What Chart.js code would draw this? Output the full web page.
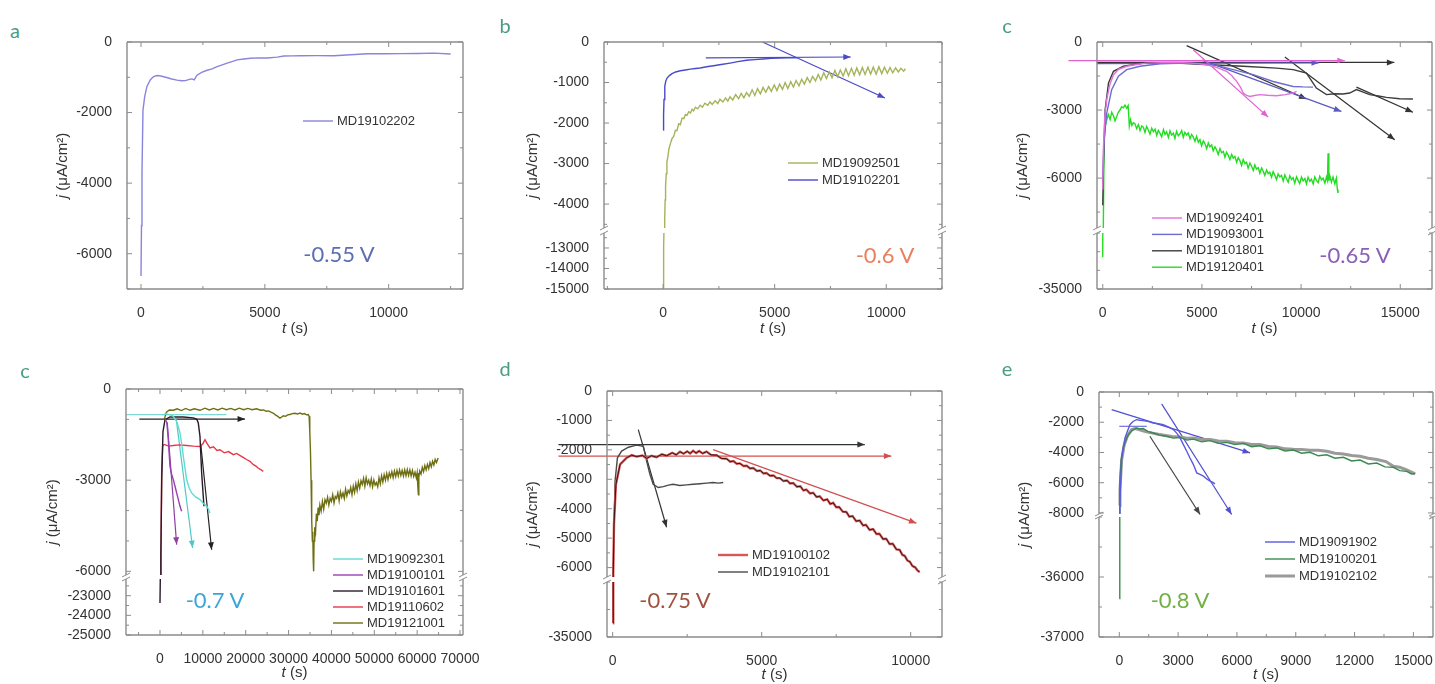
<!DOCTYPE html>
<html>
<head>
<meta charset="utf-8">
<script src="https://cdn.jsdelivr.net/npm/chart.js@4.4.1/dist/chart.umd.min.js"></script>
<style>
  body { margin: 0; background: #fff; width: 1435px; height: 684px; overflow: hidden; position: relative; }
  canvas { position: absolute; }
  .tag { position: absolute; font-family: Lato, "Open Sans", sans-serif; font-size: 20px; color: #4a9d82; transform: translate(-50%, -50%); line-height: 1; }
  .volt { position: absolute; font-family: Lato, "Open Sans", sans-serif; font-size: 22px; transform: translate(-50%, -50%); white-space: nowrap; line-height: 1; z-index: 2; }
</style>
</head>
<body>
<canvas id="pa" width="440" height="310" style="left:40px;top:30px"></canvas>
<canvas id="pb" width="460" height="310" style="left:500px;top:30px"></canvas>
<canvas id="pc" width="445" height="310" style="left:990px;top:30px"></canvas>
<canvas id="pc2" width="480" height="309" style="left:0px;top:375px"></canvas>
<canvas id="pd" width="470" height="309" style="left:490px;top:375px"></canvas>
<canvas id="pe" width="450" height="309" style="left:985px;top:375px"></canvas>

<div class="tag" style="left:15px;top:30px">a</div>
<div class="tag" style="left:505px;top:25px">b</div>
<div class="tag" style="left:1007px;top:25px">c</div>
<div class="tag" style="left:25px;top:370px">c</div>
<div class="tag" style="left:505px;top:368px">d</div>
<div class="tag" style="left:1007px;top:368px">e</div>

<div class="volt" style="left:339px;top:254px;color:#5b6fb5">-0.55 V</div>
<div class="volt" style="left:885px;top:255px;color:#e8805f">-0.6 V</div>
<div class="volt" style="left:1355px;top:255px;color:#8b5fb5">-0.65 V</div>
<div class="volt" style="left:215px;top:600px;color:#3aa6d8">-0.7 V</div>
<div class="volt" style="left:675px;top:600px;color:#a0523f">-0.75 V</div>
<div class="volt" style="left:1180px;top:600px;color:#72b043">-0.8 V</div>

<script>
// ---------- data: [t (s), j (uA/cm2)] ----------
// a  -0.55 V
const aXTicks = [0, 5000, 10000];
const aYTicks = [0, -2000, -4000, -6000];
const a19102202 = [[0,-6630],[20,-5200],[40,-3730],[80,-1930],[150,-1550],[240,-1260],[380,-1070],[510,-980],[650,-950],[800,-965],
  [1000,-1000],[1200,-1040],[1450,-1080],[1650,-1100],[1800,-1095],[1950,-1060],[2060,-1045],[2150,-1075],[2260,-940],[2450,-860],
  [2670,-800],[2870,-760],[3070,-700],[3280,-650],[3480,-600],[3700,-550],[3880,-505],[4150,-480],[4420,-460],[4750,-450],
  [5090,-455],[5500,-430],[5770,-395],[6100,-392],[6440,-390],[7100,-385],[7790,-390],[8460,-360],[9140,-335],[9800,-332],
  [10480,-330],[11150,-325],[11830,-315],[12500,-340]];

// b  -0.6 V
const bXTicks = [0, 5000, 10000];
const bYTicksUp = [0, -1000, -2000, -3000, -4000];
const bYTicksLow = [-13000, -14000, -15000];
const b19092501 = [[0,-15000],[15,-14000],[30,-13000],[50,-11500],[70,-4400],[90,-3900],[110,-3560],[140,-3250],[170,-2950],[210,-2850],
  [260,-2640],[320,-2520],[400,-2380],[475,-2330],[550,-2180],[620,-2190],[700,-2020],[770,-2040],[850,-1880],[930,-1890],
  [1000,-1790],[1070,-1810],[1150,-1720],[1230,-1750],[1300,-1660],[1365,-1700],[1450,-1610],[1550,-1650],[1660,-1560],[1760,-1610],
  [1870,-1510],[2000,-1560],[2100,-1480],[2200,-1540],[2330,-1450],[2450,-1520],[2550,-1410],[2680,-1480],[2800,-1380],[2900,-1460],
  [3000,-1350],[3120,-1430],[3250,-1300],[3380,-1400],[3500,-1270],[3620,-1380],[3740,-1250],[3860,-1340],[3990,-1180],[4110,-1320],
  [4230,-1150],[4360,-1280],[4480,-1120],[4600,-1240],[4730,-1100],[4850,-1220],[4980,-1060],[5100,-1200],[5220,-1040],[5350,-1170],
  [5470,-1000],[5590,-1150],[5720,-980],[5840,-1110],[5960,-950],[6090,-1080],[6210,-920],[6330,-1040],[6460,-880],[6580,-1000],
  [6700,-850],[6830,-960],[6950,-800],[7070,-940],[7200,-760],[7320,-900],[7450,-740],[7570,-880],[7700,-700],[7820,-860],
  [7940,-690],[8070,-840],[8190,-660],[8310,-830],[8440,-650],[8560,-820],[8680,-640],[8810,-810],[8930,-630],[9050,-800],
  [9180,-620],[9300,-790],[9420,-620],[9550,-790],[9670,-610],[9800,-780],[9920,-620],[10050,-770],[10170,-630],[10290,-760],
  [10420,-640],[10540,-740],[10660,-650],[10780,-720],[10860,-660]];
const b19102201 = [[0,-2170],[20,-1800],[40,-1420],[75,-1095],[120,-960],[180,-890],[280,-830],[400,-780],[560,-740],[770,-710],
  [1000,-690],[1220,-670],[1450,-655],[1660,-640],[1950,-610],[2260,-585],[2600,-555],[3000,-520],[3350,-485],[3740,-450],
  [4100,-435],[4480,-420],[4850,-405],[5220,-395],[5600,-390],[6000,-390]];
const bBlueArrows = [[1915,-390,8410,-370],[4450,0,9940,-1380]];

// c  -0.65 V
const cXTicks = [0, 5000, 10000, 15000];
const cYTicksUp = [0, -3000, -6000];
const cYTicksLow = [-35000];
const c19092401 = [[0,-6500],[30,-4750],[100,-3300],[200,-2540],[350,-1900],[540,-1440],[800,-1200],[1210,-1070],[1700,-990],[2210,-930],
  [3000,-910],[3720,-900],[4300,-920],[4900,-960],[5300,-1020],[5570,-1070],[5900,-1170],[6240,-1290],[6500,-1480],[6750,-1735],
  [6950,-2000],[7080,-2250],[7250,-2350],[7420,-2400],[7650,-2360],[7920,-2320],[8300,-2350],[8760,-2370],[9200,-2320],[9600,-2250],[9770,-2180]];
const c19093001 = [[0,-6000],[67,-4310],[200,-3130],[450,-2100],[790,-1510],[1210,-1220],[1880,-1070],[2890,-960],[4230,-930],[5570,-1000],
  [6580,-1220],[7580,-1440],[8590,-1740],[9600,-1960],[10100,-1980],[10600,-1990]];
const c19101801 = [[0,-7200],[34,-5490],[120,-2990],[290,-1810],[540,-1290],[1040,-1070],[2050,-930],[3720,-930],[5400,-1000],[7080,-1070],
  [8760,-1150],[9600,-1220],[10270,-1370],[10770,-2030],[11280,-2320],[11700,-2280],[12110,-2290],[12450,-2250],[12790,-2100],[13100,-2200],
  [13460,-2320],[13900,-2380],[14300,-2440],[14970,-2500],[15640,-2510]];
const c19120401 = [[0,-33300],[20,-9000],[67,-4460],[130,-3700],[200,-3430],[280,-3200],[370,-3420],[450,-3100],[540,-3250],[620,-3480],
  [700,-3300],[780,-3100],[870,-3000],[950,-2850],[1040,-2900],[1120,-2780],[1210,-2920],[1280,-2800],[1340,-3700],[1400,-3420],
  [1470,-3680],[1540,-3560],[1620,-3600],[1710,-3820],[1800,-3640],[1880,-3900],[1970,-3700],[2050,-3760],[2130,-3990],[2210,-3720],
  [2300,-3880],[2380,-4060],[2470,-3800],[2550,-3950],[2640,-3840],[2720,-4120],[2800,-3900],[2890,-4030],[2970,-4180],[3060,-3860],
  [3140,-4080],[3220,-3960],[3310,-4210],[3390,-3920],[3470,-4100],[3560,-4020],[3640,-4250],[3720,-3940],[3810,-4130],[3890,-4060],
  [3980,-3900],[4060,-4200],[4140,-3980],[4230,-4100],[4310,-4010],[4400,-4260],[4480,-4080],[4560,-4180],[4650,-4380],[4730,-4160],
  [4820,-4420],[4900,-4300],[4980,-4580],[5070,-4360],[5150,-4480],[5240,-4700],[5320,-4450],[5400,-4620],[5490,-4540],[5570,-4800],
  [5660,-4620],[5740,-4760],[5820,-4960],[5910,-4700],[5990,-4880],[6080,-4820],[6160,-5080],[6240,-4860],[6330,-5000],[6410,-5180],
  [6500,-4960],[6580,-5120],[6660,-5040],[6750,-5300],[6830,-5100],[6910,-5220],[7000,-5440],[7080,-5180],[7170,-5360],[7250,-5300],
  [7330,-5560],[7420,-5340],[7500,-5480],[7590,-5660],[7670,-5420],[7750,-5600],[7840,-5540],[7920,-5780],[8010,-5560],[8090,-5700],
  [8170,-5880],[8260,-5640],[8340,-5800],[8420,-5740],[8510,-5960],[8590,-5720],[8680,-5880],[8760,-6060],[8840,-5820],[8930,-5950],
  [9010,-5880],[9100,-6130],[9180,-5860],[9260,-6020],[9350,-6180],[9430,-5900],[9520,-6060],[9600,-5980],[9680,-6220],[9770,-5940],
  [9850,-6100],[9930,-6240],[10020,-5960],[10100,-6120],[10190,-6020],[10270,-6250],[10350,-5960],[10440,-6140],[10520,-6050],[10610,-6260],
  [10690,-5950],[10770,-6100],[10860,-6200],[10940,-5920],[11030,-6080],[11110,-6000],[11200,-6220],[11280,-5950],[11330,-6100],[11360,-4900],
  [11400,-6120],[11450,-5900],[11530,-6180],[11610,-5950],[11700,-6250],[11780,-6000],[11830,-6500],[11860,-6660]];
const cPinkArrows = [[-1730,-820,12200,-820],[4560,-340,8340,-3310]];
const cBlueArrows = [[-300,-950,10900,-920],[5000,-800,12030,-3060]];
const cDarkArrows = [[-300,-900,14700,-900],[4230,-160,10270,-2510],[9180,-660,14720,-4310],[12790,-1990,15640,-3100]];

// c (second)  -0.7 V
const c2XTicks = [0, 10000, 20000, 30000, 40000, 50000, 60000, 70000];
const c2YTicksUp = [0, -3000, -6000];
const c2YTicksLow = [-23000, -24000, -25000];
const c19092301 = [[500,-850],[1500,-820],[2500,-850],[3110,-900],[4000,-1100],[4670,-1450],[5050,-1800],[5440,-2210],[5830,-2600],[6220,-2980],
  [6800,-3250],[7390,-3420],[8300,-3550],[9330,-3640],[10100,-3760],[10890,-3860],[11300,-3950],[11660,-4080]];
const c19100101 = [[1200,-1000],[1600,-1100],[1940,-1670],[2330,-2540],[2700,-2800],[3110,-2980],[3500,-3200],[3890,-3420],[4300,-3650],[4670,-3860],[5050,-4020]];
const c19101601 = [[0,-23370],[80,-22000],[200,-5500],[400,-3000],[700,-1400],[1170,-1010],[2330,-920],[5440,-920],[7780,-950],[8600,-1000],
  [8940,-1120],[9330,-1560],[9720,-2760],[10260,-3860]];
const c19110602 = [[100,-6100],[230,-5500],[390,-2760],[620,-1890],[900,-1830],[1170,-1830],[2000,-1880],[3110,-1860],[4500,-1840],[6220,-1860],
  [7800,-1880],[9330,-1890],[10000,-1800],[10500,-1670],[11000,-1800],[11660,-1940],[12500,-1900],[13300,-2020],[14000,-2000],[15000,-2100],
  [16000,-2060],[17100,-2160],[17900,-2120],[18700,-2190],[19500,-2260],[20200,-2320],[21000,-2380],[21800,-2490],[22400,-2540],[22900,-2600],
  [23500,-2650],[24100,-2710]];
const c19121001 = [[1000,-1000],[1500,-760],[2200,-690],[3110,-700],[4000,-650],[5000,-710],[6000,-640],[7000,-700],[8000,-650],[9330,-700],
  [10500,-630],[11500,-690],[12500,-640],[13500,-690],[14500,-630],[15500,-680],[16500,-640],[17500,-690],[18500,-630],[19500,-680],
  [20500,-640],[21500,-680],[22500,-650],[23500,-700],[24100,-690],[24800,-730],[25300,-720],[26000,-770],[26400,-790],[27000,-860],
  [27500,-900],[28000,-960],[28400,-920],[28800,-880],[29300,-900],[29800,-850],[30300,-840],[30900,-810],[31500,-800],[32100,-820],
  [32700,-790],[33200,-830],[33700,-810],[34200,-850],[34600,-840],[34800,-900],[34950,-1400],[35100,-2000],[35250,-3000],[35400,-4300],
  [35550,-5000],[35650,-4700],[35750,-5600],[35850,-6000],[35950,-5000],[36100,-4550],[36300,-4700],[36500,-4100],[36700,-4350],[36900,-3900],
  [37100,-4150],[37300,-3820],[37600,-4020],[37900,-3700],[38200,-3950],[38500,-3640],[38800,-3760],[39100,-3560],[39400,-3820],[39700,-3600],
  [40000,-3700],[40300,-3480],[40600,-3750],[40900,-3540],[41200,-3600],[41500,-3420],[41800,-3680],[42100,-3380],[42400,-3560],[42700,-3420],
  [43000,-3600],[43300,-3300],[43600,-3520],[43900,-3340],[44200,-3420],[44500,-3240],[44800,-3480],[45100,-3200],[45400,-3400],[45700,-3120],
  [46000,-3340],[46300,-3060],[46600,-3260],[46900,-3020],[47200,-3140],[47500,-2940],[47800,-3200],[48100,-2920],[48400,-3120],[48700,-3000],
  [49000,-3180],[49300,-2960],[49600,-3220],[49900,-3000],[50200,-3160],[50500,-3080],[50800,-3220],[51100,-2920],[51400,-3120],[51700,-2860],
  [52000,-3060],[52300,-2820],[52600,-3000],[52900,-2780],[53200,-2980],[53500,-2760],[53800,-2900],[54100,-2720],[54400,-2920],[54700,-2700],
  [55000,-2880],[55300,-2680],[55600,-2860],[55900,-2660],[56200,-2840],[56500,-2680],[56800,-2860],[57100,-2660],[57400,-2850],[57700,-2650],
  [58000,-2840],[58300,-2660],[58600,-2860],[58900,-2680],[59200,-2880],[59500,-2740],[59800,-2920],[60000,-2760],[60200,-3300],[60300,-3480],
  [60400,-2900],[60600,-2700],[60900,-2800],[61200,-2580],[61500,-2720],[61800,-2520],[62100,-2660],[62400,-2480],[62700,-2620],[63000,-2420],
  [63300,-2560],[63600,-2380],[63900,-2500],[64200,-2320],[64500,-2420],[64900,-2270]];
const c2CyanLines = [[-7800,-845,15500,-845]];
const c2CyanArrows = [[3800,-1000,7620,-5230]];
const c2PurpleArrows = [[1700,-1100,3890,-5120]];
const c2DarkArrows = [[-4820,-990,19830,-990],[9500,-1800,12050,-5290]];

// d  -0.75 V
const dXTicks = [0, 5000, 10000];
const dYTicksUp = [0, -1000, -2000, -3000, -4000, -5000, -6000];
const dYTicksLow = [-35000];
const d19100102 = [[15,-34500],[20,-6200],[45,-4520],[110,-3170],[250,-2490],[470,-2270],[640,-2180],[800,-2230],[1000,-2190],[1140,-2290],
  [1300,-2200],[1470,-2250],[1650,-2150],[1810,-2200],[2000,-2100],[2130,-2170],[2260,-2060],[2380,-2130],[2500,-2050],[2600,-2120],
  [2700,-2030],[2800,-2110],[2900,-2040],[3020,-2120],[3150,-2060],[3300,-2170],[3490,-2180],[3650,-2290],[3820,-2300],[3940,-2400],
  [4050,-2380],[4160,-2470],[4270,-2460],[4390,-2550],[4500,-2540],[4610,-2630],[4720,-2620],[4840,-2720],[4950,-2700],[5060,-2800],
  [5160,-2790],[5280,-2880],[5400,-2870],[5500,-2960],[5610,-2960],[5730,-3060],[5850,-3040],[5950,-3140],[6060,-3130],[6180,-3250],
  [6300,-3240],[6400,-3380],[6500,-3350],[6620,-3480],[6730,-3460],[6840,-3600],[6950,-3580],[7070,-3720],[7200,-3680],[7300,-3840],
  [7400,-3800],[7500,-3950],[7600,-3940],[7720,-4100],[7840,-4110],[7940,-4270],[8050,-4250],[8170,-4420],[8290,-4400],[8400,-4570],
  [8500,-4550],[8620,-4720],[8740,-4690],[8850,-4860],[8950,-4850],[9070,-5030],[9180,-5020],[9290,-5200],[9400,-5190],[9520,-5380],
  [9630,-5400],[9720,-5570],[9800,-5600],[9890,-5760],[9970,-5800],[10060,-5950],[10150,-5990],[10230,-6100],[10300,-6150]];
const d19102101 = [[10,-34300],[18,-6090],[50,-4500],[80,-3060],[160,-2270],[300,-2040],[530,-1910],[800,-1840],[1030,-1880],[1140,-2380],
  [1250,-2830],[1360,-3170],[1530,-3280],[1700,-3250],[1870,-3200],[2030,-3170],[2250,-3210],[2480,-3190],[2700,-3170],[2930,-3150],
  [3150,-3130],[3370,-3110],[3550,-3130],[3710,-3110]];
const dRedArrows = [[-1820,-2210,9350,-2210],[3370,-1990,10190,-4490]];
const dDarkArrows = [[-1820,-1820,8460,-1820],[860,-1310,1810,-4630]];

// e  -0.8 V
const eXTicks = [0, 3000, 6000, 9000, 12000, 15000];
const eYTicksUp = [0, -2000, -4000, -6000, -8000];
const eYTicksLow = [-36000, -37000];
const e19091902 = [[0,-8000],[35,-7220],[120,-4360],[290,-3040],[540,-2160],[700,-1950],[880,-1830],[1050,-1870],[1220,-1890],[1500,-1960],
  [1730,-2050],[2000,-2100],[2240,-2160],[2500,-2300],[2760,-2490],[2950,-2750],[3100,-3040],[3270,-3480],[3440,-3920],[3600,-4350],
  [3780,-4800],[3950,-5350],[4120,-5450],[4290,-5570],[4460,-5750],[4630,-5900],[4750,-5960],[4880,-6080]];
const e19100201 = [[0,-36360],[15,-8500],[35,-5900],[100,-4500],[200,-3700],[330,-3200],[460,-2820],[650,-2550],[880,-2380],[1050,-2450],
  [1220,-2420],[1450,-2600],[1730,-2710],[2050,-2850],[2410,-2930],[2750,-3050],[3100,-3000],[3450,-3180],[3780,-3120],[4200,-3300],
  [4630,-3220],[5050,-3400],[5480,-3330],[5900,-3480],[6330,-3400],[6750,-3620],[7180,-3560],[7600,-3760],[8030,-3700],[8450,-3900],
  [8880,-3840],[9300,-4050],[9730,-3990],[10150,-4220],[10580,-4150],[11000,-4380],[11430,-4320],[11850,-4560],[12280,-4500],[12700,-4760],
  [13130,-4700],[13550,-4950],[13980,-4980],[14300,-5200],[14660,-5250],[14900,-5420],[15090,-5400]];
const e19102102 = [[0,-7500],[35,-6500],[120,-4500],[250,-3500],[420,-2900],[630,-2490],[800,-2420],[1000,-2480],[1200,-2560],[1390,-2640],
  [1700,-2720],[2000,-2800],[2350,-2880],[2700,-2950],[3100,-2980],[3450,-3060],[3780,-3040],[4200,-3140],[4630,-3150],[5050,-3240],
  [5480,-3260],[5900,-3360],[6330,-3370],[6750,-3470],[7180,-3480],[7600,-3600],[8030,-3640],[8450,-3760],[8880,-3790],[9300,-3800],
  [9730,-3850],[10150,-3860],[10580,-3920],[11000,-4050],[11430,-4100],[11850,-4200],[12280,-4250],[12700,-4380],[13130,-4470],[13600,-4600],
  [13980,-4910],[14300,-4980],[14660,-5150],[15090,-5420]];
const eBlueArrows = [[-390,-1170,6670,-4030],[2160,-790,5730,-8100]];
const eBlueLines = [[0,-2270,1400,-2270]];
const eDarkArrows = [[1560,-2930,4120,-8100]];

// ---------- drawing ----------
const FONT = '"Liberation Sans", Arial, sans-serif';
Chart.defaults.font.family = FONT;
Chart.defaults.animation = false;

function minorVals(min, max, step, major) {
  const out = [];
  for (let v = Math.ceil(min / step) * step; v <= max; v += step) {
    if (!major.includes(v)) out.push(v);
  }
  return out;
}

function arrows(list, color, head) {
  return list.map(a => ({a: a, c: color, head: head !== false}));
}

function makeDeco(p) {
  return {
    id: 'deco',
    beforeDatasetDraw(chart, args) {
      const ds = chart.data.datasets[args.index];
      const s = chart.scales[ds.yAxisID];
      const a = chart.chartArea;
      const ctx = chart.ctx;
      ctx.save();
      ctx.beginPath();
      if (ds.isArrow) ctx.rect(0, s.top - 1, chart.width, s.bottom - s.top + 2);
      else ctx.rect(a.left, s.top, a.right - a.left, s.bottom - s.top);
      ctx.clip();
    },
    afterDatasetDraw(chart, args) {
      const ds = chart.data.datasets[args.index];
      const ctx = chart.ctx;
      if (ds.head) {
        const pts = args.meta.data;
        const p1 = pts[pts.length - 1], p0 = pts[pts.length - 2];
        const ang = Math.atan2(p1.y - p0.y, p1.x - p0.x);
        ctx.fillStyle = ds.borderColor;
        ctx.beginPath();
        ctx.moveTo(p1.x, p1.y);
        ctx.lineTo(p1.x - 8 * Math.cos(ang - 0.38), p1.y - 8 * Math.sin(ang - 0.38));
        ctx.lineTo(p1.x - 8 * Math.cos(ang + 0.38), p1.y - 8 * Math.sin(ang + 0.38));
        ctx.closePath();
        ctx.fill();
      }
      ctx.restore();
    },
    afterDraw(chart) {
      const ctx = chart.ctx;
      const a = chart.chartArea;
      const x = chart.scales.x;
      ctx.save();
      // frame
      ctx.strokeStyle = '#8c8c8c';
      ctx.lineWidth = 1.4;
      ctx.beginPath();
      ctx.moveTo(a.left, a.top); ctx.lineTo(a.right, a.top);
      ctx.moveTo(a.left, a.bottom); ctx.lineTo(a.right, a.bottom);
      p.segs.forEach((g, i) => {
        const s = chart.scales['y' + i];
        ctx.moveTo(a.left, s.top); ctx.lineTo(a.left, s.bottom);
        ctx.moveTo(a.right, s.top); ctx.lineTo(a.right, s.bottom);
      });
      ctx.stroke();
      // inward ticks on all four sides
      ctx.lineWidth = 1;
      ctx.beginPath();
      const xt = (v, len) => {
        const px = x.getPixelForValue(v);
        ctx.moveTo(px, a.bottom); ctx.lineTo(px, a.bottom - len);
        ctx.moveTo(px, a.top); ctx.lineTo(px, a.top + len);
      };
      p.x.ticks.forEach(v => xt(v, 5));
      minorVals(p.x.min, p.x.max, p.x.minor, p.x.ticks).forEach(v => xt(v, 3));
      p.segs.forEach((g, i) => {
        const s = chart.scales['y' + i];
        const yt = (v, len) => {
          const py = s.getPixelForValue(v);
          ctx.moveTo(a.left, py); ctx.lineTo(a.left + len, py);
          ctx.moveTo(a.right, py); ctx.lineTo(a.right - len, py);
        };
        g.ticks.forEach(v => yt(v, 5));
        minorVals(g.min, g.max, g.minor, g.ticks).forEach(v => yt(v, 3));
      });
      ctx.stroke();
      // axis break marks
      for (let i = 0; i < p.segs.length - 1; i++) {
        const s0 = chart.scales['y' + i], s1 = chart.scales['y' + (i + 1)];
        [a.left, a.right].forEach(xx => {
          ctx.beginPath();
          ctx.moveTo(xx - 4, s0.bottom + 2); ctx.lineTo(xx + 4, s0.bottom - 2);
          ctx.moveTo(xx - 4, s1.top + 2); ctx.lineTo(xx + 4, s1.top - 2);
          ctx.stroke();
        });
      }
      // axis titles
      ctx.fillStyle = '#333';
      ctx.textBaseline = 'middle';
      const fi = 'italic 15px ' + FONT, fn = '15px ' + FONT;
      ctx.save();
      ctx.translate(a.left - p.ytx, (a.top + a.bottom) / 2);
      ctx.rotate(-Math.PI / 2);
      ctx.font = fi; const w1 = ctx.measureText('j').width;
      ctx.font = fn; const w2 = ctx.measureText(' (\u03bcA/cm\u00b2)').width;
      ctx.textAlign = 'left';
      ctx.font = fi; ctx.fillText('j', -(w1 + w2) / 2, 0);
      ctx.font = fn; ctx.fillText(' (\u03bcA/cm\u00b2)', -(w1 + w2) / 2 + w1, 0);
      ctx.restore();
      ctx.font = fi; const t1 = ctx.measureText('t').width;
      ctx.font = fn; const t2 = ctx.measureText(' (s)').width;
      const tx = (a.left + a.right) / 2 - (t1 + t2) / 2;
      ctx.textAlign = 'left';
      ctx.font = fi; ctx.fillText('t', tx, a.bottom + p.xty);
      ctx.font = fn; ctx.fillText(' (s)', tx + t1, a.bottom + p.xty);
      // legend
      const lg = p.legend;
      p.series.forEach((sr, k) => {
        const lx = a.left + lg.dx, ly = a.top + lg.dy + k * lg.step;
        ctx.strokeStyle = sr.lc || sr.color;
        ctx.lineWidth = sr.w || 1.4;
        ctx.beginPath(); ctx.moveTo(lx, ly); ctx.lineTo(lx + 30, ly); ctx.stroke();
        ctx.fillStyle = '#333';
        ctx.font = '13px ' + FONT;
        ctx.fillText(sr.label, lx + 34, ly);
      });
      ctx.restore();
    }
  };
}

function buildChart(id, p) {
  const tickFont = {size: 14};
  const scales = {
    x: {
      type: 'linear', position: 'bottom', min: p.x.min, max: p.x.max,
      grid: {display: false}, border: {display: false},
      ticks: {autoSkip: false, maxRotation: 0, minRotation: 0, padding: 8, color: '#333', font: tickFont, callback: v => String(v)},
      afterBuildTicks: s => { s.ticks = p.x.ticks.map(v => ({value: v})); },
      afterFit: s => { s.height = p.xh; s.paddingLeft = 0; s.paddingRight = 0; }
    }
  };
  p.segs.forEach((g, i) => {
    scales['y' + i] = {
      type: 'linear', position: 'left', stack: 'j', stackWeight: g.h, weight: 10 - 2 * i,
      min: g.min, max: g.max,
      grid: {display: false}, border: {display: false},
      ticks: {autoSkip: false, padding: 7, color: '#333', font: tickFont, callback: v => String(v)},
      afterBuildTicks: s => { s.ticks = g.ticks.map(v => ({value: v})); },
      afterFit: s => { s.width = p.yw; s.paddingTop = 0; s.paddingBottom = 0; }
    };
    if (i < p.segs.length - 1) {
      scales['gap' + i] = {type: 'linear', position: 'left', stack: 'j', stackWeight: p.gap, weight: 9 - 2 * i, display: false, min: 0, max: 1};
    }
  });

  const datasets = [];
  p.series.forEach(sr => {
    const pts = sr.data.map(d => ({x: d[0], y: d[1]}));
    p.segs.forEach((g, i) => {
      if (sr.over) datasets.push({data: pts, yAxisID: 'y' + i, borderColor: sr.over, borderWidth: 1, pointRadius: 0});
      datasets.push({data: pts, yAxisID: 'y' + i, borderColor: sr.color, borderWidth: sr.w || 1.4, pointRadius: 0});
    });
  });
  p.arrows.forEach(ar => {
    datasets.push({
      data: [{x: ar.a[0], y: ar.a[1]}, {x: ar.a[2], y: ar.a[3]}],
      yAxisID: 'y0', borderColor: ar.c, borderWidth: 1.2, pointRadius: 0,
      clip: false, isArrow: true, head: ar.head
    });
  });

  return new Chart(document.getElementById(id), {
    type: 'line',
    data: {datasets: datasets},
    options: {
      responsive: false,
      events: [],
      layout: {padding: {top: p.pad.top, right: p.pad.right, left: 0, bottom: 0}},
      plugins: {legend: {display: false}, tooltip: {enabled: false}},
      scales: scales
    },
    plugins: [makeDeco(p)]
  });
}

buildChart('pa', {
  yw: 87, xh: 51, pad: {top: 12, right: 17}, ytx: 64, xty: 40, gap: 0,
  x: {min: -565, max: 13000, ticks: aXTicks, minor: 2500},
  segs: [{min: -7000, max: 0, ticks: aYTicks, minor: 1000, h: 247}],
  series: [{label: 'MD19102202', data: a19102202, color: '#8a84dc'}],
  arrows: [],
  legend: {dx: 176, dy: 79, step: 17}
});

buildChart('pb', {
  yw: 104, xh: 51, pad: {top: 12, right: 18}, ytx: 71, xty: 40, gap: 5,
  x: {min: -2650, max: 12500, ticks: bXTicks, minor: 2500},
  segs: [{min: -4590, max: 0, ticks: bYTicksUp, minor: 500, h: 186},
         {min: -15000, max: -12270, ticks: bYTicksLow, minor: 500, h: 56}],
  series: [{label: 'MD19092501', data: b19092501, color: '#a3b45a'},
           {label: 'MD19102201', data: b19102201, color: '#4a4ac8'}],
  arrows: arrows(bBlueArrows, '#4a4ac8'),
  legend: {dx: 184, dy: 121, step: 17}
});

buildChart('pc', {
  yw: 107, xh: 51, pad: {top: 12, right: 3}, ytx: 74, xty: 40, gap: 5,
  x: {min: -290, max: 16600, ticks: cXTicks, minor: 2500},
  segs: [{min: -8200, max: 0, ticks: cYTicksUp, minor: 1500, h: 186},
         {min: -35000, max: -32000, ticks: cYTicksLow, minor: 1000, h: 56}],
  series: [{label: 'MD19092401', data: c19092401, color: '#e070dc'},
           {label: 'MD19093001', data: c19093001, color: '#6c6cd0'},
           {label: 'MD19101801', data: c19101801, color: '#3c3c3c'},
           {label: 'MD19120401', data: c19120401, color: '#22dd22'}],
  arrows: arrows(cPinkArrows, '#e060d0').concat(arrows(cBlueArrows, '#5a5ac0'), arrows(cDarkArrows, '#333333')),
  legend: {dx: 55, dy: 176, step: 16.4}
});

buildChart('pc2', {
  yw: 126, xh: 49, pad: {top: 14, right: 17}, ytx: 73, xty: 38, gap: 4,
  x: {min: -7930, max: 70700, ticks: c2XTicks, minor: 5000},
  segs: [{min: -6120, max: 0, ticks: c2YTicksUp, minor: 1000, h: 186},
         {min: -25000, max: -22150, ticks: c2YTicksLow, minor: 500, h: 56}],
  series: [{label: 'MD19092301', data: c19092301, color: '#5fdcd2'},
           {label: 'MD19100101', data: c19100101, color: '#9a3fb0'},
           {label: 'MD19101601', data: c19101601, color: '#2a1a2a'},
           {label: 'MD19110602', data: c19110602, color: '#e83848'},
           {label: 'MD19121001', data: c19121001, color: '#6e6e12'}],
  arrows: arrows(c2CyanLines, '#7fd8d8', false).concat(arrows(c2CyanArrows, '#50c8c8'), arrows(c2PurpleArrows, '#9040a0'), arrows(c2DarkArrows, '#222222')),
  legend: {dx: 207, dy: 170, step: 16}
});

buildChart('pd', {
  yw: 117, xh: 47, pad: {top: 16, right: 18}, ytx: 74, xty: 38, gap: 5,
  x: {min: -190, max: 11050, ticks: dXTicks, minor: 2500},
  segs: [{min: -6320, max: 0, ticks: dYTicksUp, minor: 500, h: 186},
         {min: -35000, max: -33000, ticks: dYTicksLow, minor: 1000, h: 55}],
  series: [{label: 'MD19100102', data: d19100102, color: '#d65858', w: 2.4, over: '#3a1212', lc: '#d65858'},
           {label: 'MD19102101', data: d19102101, color: '#4a4a4a'}],
  arrows: arrows(dRedArrows, '#d05050').concat(arrows(dDarkArrows, '#333333')),
  legend: {dx: 111, dy: 164, step: 17}
});

buildChart('pe', {
  yw: 114, xh: 47, pad: {top: 17, right: 2}, ytx: 74, xty: 38, gap: 3,
  x: {min: -1035, max: 16000, ticks: eXTicks, minor: 1500},
  segs: [{min: -8070, max: 0, ticks: eYTicksUp, minor: 1000, h: 122},
         {min: -37000, max: -35000, ticks: eYTicksLow, minor: 500, h: 120}],
  series: [{label: 'MD19091902', data: e19091902, color: '#5a5ae0'},
           {label: 'MD19100201', data: e19100201, color: '#3a8a50'},
           {label: 'MD19102102', data: e19102102, color: '#9a9a9a', w: 3}],
  arrows: arrows(eBlueArrows, '#5050d0').concat(arrows(eBlueLines, '#7070e0', false), arrows(eDarkArrows, '#444444')),
  legend: {dx: 166, dy: 150, step: 17}
});
</script>
</body>
</html>
